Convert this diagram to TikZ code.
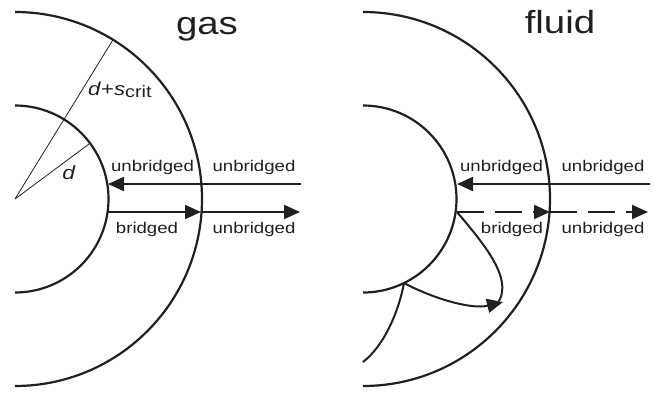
\documentclass[tikz,border=0pt]{standalone}
\usepackage{fontspec}
\setmainfont[FakeStretch=1.2]{Liberation Sans}
\usetikzlibrary{arrows.meta}
\definecolor{ink}{RGB}{35,31,32}
\begin{document}
\begin{tikzpicture}[x=1pt,y=-1pt,
  rim/.style={line width=2.2pt, draw=ink},
  spoke/.style={line width=0.8pt, draw=ink},
  track/.style={line width=2pt, draw=ink,
    -{Triangle[length=16pt,width=14pt]}},
  trail/.style={line width=2pt, draw=ink},
  lbl/.style={font=\fontsize{15.5}{18}\selectfont, text=ink, inner sep=0pt, anchor=base},
  heading/.style={font=\fontsize{32}{36}\selectfont, text=ink, inner sep=0pt, anchor=base},
  sym/.style={font=\fontsize{18.5}{22}\selectfont, text=ink, inner sep=0pt, anchor=base west}]
\useasboundingbox (0,0) rectangle (659,392);

% ---------- gas ----------
\coordinate (Lc) at (15,199);
\draw[rim] (Lc) ++(90:187pt) arc[start angle=90, end angle=-90, radius=187pt];
\draw[rim] (Lc) ++(90:93.5pt) arc[start angle=90, end angle=-90, radius=93.5pt];
\path (Lc) ++(58.4:187pt) coordinate (Lo);
\path (Lc) ++(36.6:93.5pt) coordinate (Li);
\draw[spoke] (Lc) -- (Lo);
\draw[spoke] (Lc) -- (Li);

\coordinate (Lfar1) at (301,184);
\coordinate (Lin1)  at (108,184);
\coordinate (Lin2)  at (108,212);
\coordinate (Lout2) at (201,212);
\coordinate (Lfar2) at (300,212);
\draw[track] (Lfar1) -- (Lin1);
\draw[track] (Lin2) -- (Lout2);
\draw[track] (Lout2) -- (Lfar2);

\node[heading] (gas) at (207,34) {gas};
\node[sym] (dsc) at (88,95) {\textit{d}+\textit{s}\raisebox{-2.5pt}{\fontsize{16.5}{20}\selectfont crit}};
\node[sym, anchor=base, font=\fontsize{19}{22}\selectfont] (dl) at (69,179) {\textit{d}};
\node[lbl] (g1) at (152.5,171.5) {unbridged};
\node[lbl] (g2) at (254,171.5) {unbridged};
\node[lbl] (g3) at (147,233) {bridged};
\node[lbl] (g4) at (254,233) {unbridged};

% ---------- fluid ----------
\coordinate (Rc) at (363,199);
\draw[rim] (Rc) ++(90:187pt) arc[start angle=90, end angle=-90, radius=187pt];
\draw[rim] (Rc) ++(90:93.5pt) arc[start angle=90, end angle=-90, radius=93.5pt];

\coordinate (Rfar1) at (650,184);
\coordinate (Rin1)  at (457,184);
\coordinate (Rin2)  at (457,212);
\coordinate (Rout2) at (550,212);
\coordinate (Rfar2) at (648,212);
\coordinate (Rhit)  at (404,283);
\coordinate (Rlow)  at (363,362);
\coordinate (Rtip)  at (503,302);
\draw[track] (Rfar1) -- (Rin1);
\draw[track, dash pattern=on 27pt off 11pt] (Rin2) -- (Rout2);
\draw[track, dash pattern=on 27pt off 11pt] (Rout2) -- (Rfar2);
\draw[trail] (Rin2) .. controls (485,245) and (512,278) .. (499,301);
\draw[trail] (Rlow) .. controls (385,345) and (399,310) .. (Rhit);
\draw[track] (Rhit) .. controls (430,297) and (470,310) .. (Rtip);

\node[heading] (fluid) at (560,33) {fluid};
\node[lbl] (f1) at (501.5,171.5) {unbridged};
\node[lbl] (f2) at (603,171.5) {unbridged};
\node[lbl] (f3) at (512,233) {bridged};
\node[lbl] (f4) at (603,233) {unbridged};
\end{tikzpicture}
\end{document}
